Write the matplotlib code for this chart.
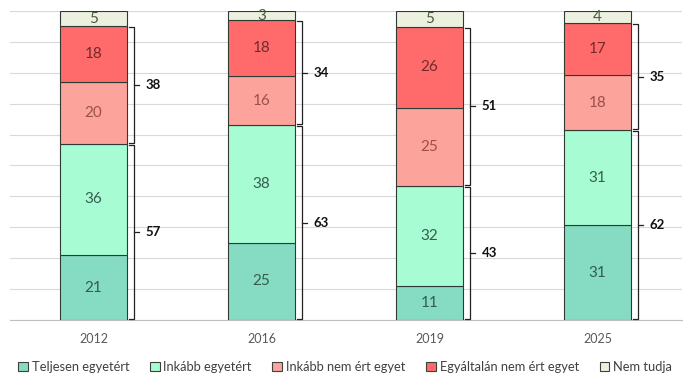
import matplotlib
matplotlib.use("Agg")
import matplotlib.pyplot as plt
from matplotlib.patches import Patch

years = ["2012", "2016", "2019", "2025"]
teljesen = [21, 25, 11, 31]
inkabb = [36, 38, 32, 31]
inkabb_nem = [20, 16, 25, 18]
egyaltalan = [18, 18, 26, 17]
nem_tudja = [5, 3, 5, 4]
pos_sum = [57, 63, 43, 62]
neg_sum = [38, 34, 51, 35]

series_names = ["Teljesen egyetért", "Inkább egyetért", "Inkább nem ért egyet",
                "Egyáltalán nem ért egyet", "Nem tudja"]
series_vals = [teljesen, inkabb, inkabb_nem, egyaltalan, nem_tudja]
colors = ["#86dcc2", "#a8fcd4", "#fca39b", "#ff6b6b", "#ebf1de"]
text_colors = ["#365a4e", "#365e50", "#9c504a", "#742a2a", "#4a5a3a"]

plt.rcParams['font.family'] = ['Lato', 'DejaVu Sans']

fig = plt.figure(figsize=(6.9, 3.84), dpi=100)
ax = fig.add_axes([0.0138, 0.1667, 0.9739, 0.8047])

x = list(range(len(years)))
w = 0.4
totals = [sum(s[i] for s in series_vals) for i in range(len(years))]
# 100% stacked: normalise each column
bottom = [0.0] * len(years)
for name, vals, c, tc in zip(series_names, series_vals, colors, text_colors):
    h = [v / t * 100 for v, t in zip(vals, totals)]
    ax.bar(x, h, w, bottom=bottom, color=c, edgecolor="#2f3a35", linewidth=0.8, zorder=3)
    for i, v in enumerate(vals):
        ax.text(x[i], bottom[i] + h[i] / 2, str(v), ha="center", va="center",
                fontsize=11, color=tc, zorder=5, clip_on=False)
    bottom = [b + hh for b, hh in zip(bottom, h)]

def bracket(xc, y0, y1, label):
    xr = xc + w / 2
    xv = xr + 0.042
    ax.plot([xr + 0.014, xv, xv, xr + 0.014], [y1, y1, y0, y0],
            color="#222222", lw=0.9, zorder=4, clip_on=False, solid_joinstyle="round")
    ym = (y0 + y1) / 2
    ax.plot([xv, xv + 0.03], [ym, ym], color="#222222", lw=0.9, zorder=4, clip_on=False)
    ax.text(xv + 0.07, ym, label, ha="left", va="center", fontsize=9.5,
            fontweight="bold", color="#111111")

for i in range(len(years)):
    t = totals[i]
    top_pos = (teljesen[i] + inkabb[i]) / t * 100
    bracket(x[i], 0.3, top_pos - 0.3, str(pos_sum[i]))
    top_neg = top_pos + (inkabb_nem[i] + egyaltalan[i]) / t * 100
    bracket(x[i], top_pos + 0.3, top_neg - 0.3, str(neg_sum[i]))

ax.set_xlim(-0.5, 3.5)
ax.set_ylim(0, 100)
ax.set_yticks(range(0, 101, 10))
ax.yaxis.grid(True, color="#d9d9d9", linewidth=0.8, zorder=0)
ax.set_axisbelow(True)
ax.tick_params(axis="y", left=False, labelleft=False)
ax.tick_params(axis="x", bottom=False, labelsize=9, colors="#595959", pad=6)
ax.set_xticks(x)
ax.set_xticklabels(years)
for s in ["top", "left", "right"]:
    ax.spines[s].set_visible(False)
ax.spines["bottom"].set_color("#bfbfbf")
ax.spines["bottom"].set_linewidth(0.8)

handles = [Patch(facecolor=c, edgecolor="#404040", linewidth=0.8) for c in colors]
fig.legend(handles, series_names, loc="center", bbox_to_anchor=(0.5, 0.044), ncol=5,
           frameon=False, fontsize=9.3, handlelength=0.75, handleheight=0.75,
           handletextpad=0.3, columnspacing=1.6, labelcolor="#404040")

fig.savefig("out.png", dpi=100)
